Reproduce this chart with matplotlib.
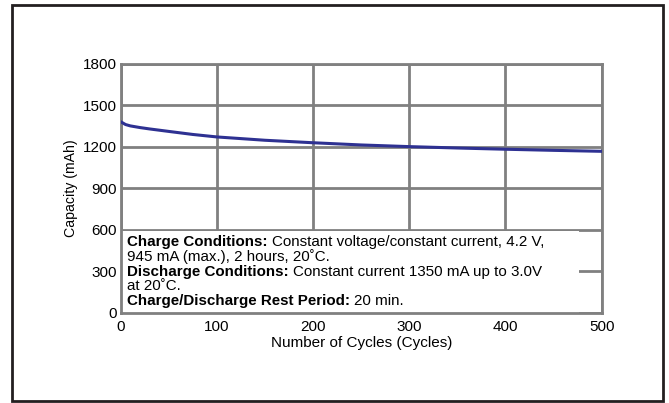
import matplotlib
matplotlib.use("Agg")
import matplotlib.pyplot as plt
from matplotlib.patches import Rectangle

plt.rcParams['font.family'] = ['Liberation Sans', 'DejaVu Sans']

# capacity vs cycle count
cycles = [0, 5, 10, 20, 30, 50, 75, 100, 150, 200, 250, 300, 350, 400, 450, 500]
capacity = [1382, 1362, 1352, 1340, 1330, 1312, 1290, 1272, 1248, 1230, 1214, 1202, 1192, 1183, 1175, 1168]

x_ticks = [0, 100, 200, 300, 400, 500]
y_ticks = [0, 300, 600, 900, 1200, 1500, 1800]

notes = [
    ("Charge Conditions: ", "Constant voltage/constant current, 4.2 V,"),
    ("", "945 mA (max.), 2 hours, 20˚C."),
    ("Discharge Conditions: ", "Constant current 1350 mA up to 3.0V"),
    ("", "at 20˚C."),
    ("Charge/Discharge Rest Period: ", "20 min."),
]

GRID = '#808080'
LINE = '#2e3192'

fig = plt.figure(figsize=(6.69, 4.03), dpi=100)

# outer frame
frame = Rectangle((12 / 669, 2 / 403), 651 / 669, 396 / 403, transform=fig.transFigure,
                  fill=False, edgecolor='#231f20', linewidth=2)
fig.patches.append(frame)

ax = fig.add_axes([0.1804, 0.2241, 0.7190, 0.6171])
ax.plot(cycles, capacity, color=LINE, linewidth=2.2, zorder=3)

ax.set_xlim(0, 500)
ax.set_ylim(0, 1800)
ax.set_xticks(x_ticks)
ax.set_yticks(y_ticks)
ax.tick_params(length=0, labelsize=11)
ax.tick_params(axis='x', pad=5)
ax.tick_params(axis='y', pad=3)
ax.grid(True, color=GRID, linewidth=2)
ax.set_axisbelow(True)
for s in ax.spines.values():
    s.set_color(GRID)
    s.set_linewidth(2)

# white panel holding the test conditions
ax.add_patch(Rectangle((0, 0), 476, 593, facecolor='white', edgecolor='none', zorder=1))

ax.set_xlabel('Number of Cycles (Cycles)', fontsize=11, labelpad=2)
ax.set_ylabel('Capacity (mAh)', fontsize=10.2, labelpad=3)

fig.canvas.draw()
renderer = fig.canvas.get_renderer()
x0 = 127 / 669
y0 = 1 - 242 / 403
step = 14.8 / 403
for i, (bold, rest) in enumerate(notes):
    y = y0 - i * step
    xr = x0
    if bold:
        t = fig.text(x0, y, bold, fontsize=10.9, fontweight='bold', va='center', zorder=5)
        bb = t.get_window_extent(renderer)
        xr = bb.x1 / fig.bbox.width
    fig.text(xr, y, rest, fontsize=10.9, va='center', zorder=5)

fig.savefig('out.png', dpi=100)
